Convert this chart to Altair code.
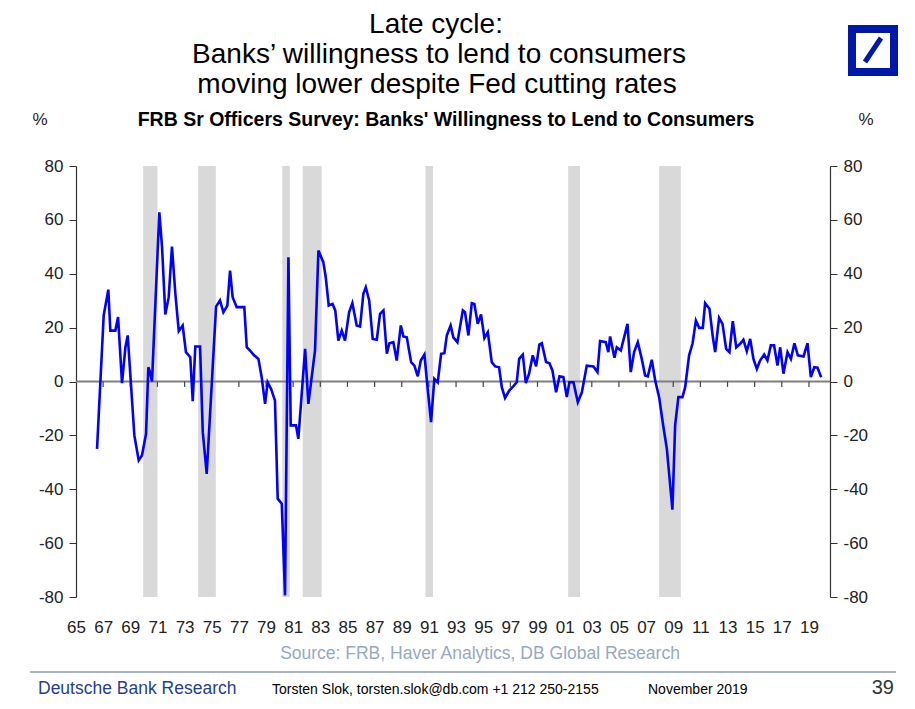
import altair as alt
import pandas as pd

# ---- data ----
years = [1966.55, 1967.04, 1967.38, 1967.53, 1967.90, 1968.10, 1968.39, 1968.64, 1968.81, 1969.30,
         1969.62, 1969.86, 1970.16, 1970.33, 1970.45, 1970.60, 1971.14, 1971.34, 1971.58, 1971.83,
         1972.07, 1972.32, 1972.57, 1972.86, 1973.10, 1973.42, 1973.60, 1973.79, 1974.14, 1974.34,
         1974.63, 1975.32, 1975.61, 1975.86, 1976.15, 1976.35, 1976.54, 1976.84, 1977.40, 1977.58,
         1977.82, 1978.12, 1978.44, 1978.68, 1978.93, 1979.12, 1979.37, 1979.66, 1979.86, 1980.16,
         1980.40, 1980.65, 1980.82, 1981.21, 1981.38, 1981.88, 1982.12, 1982.61, 1982.86, 1983.22,
         1983.40, 1983.62, 1983.90, 1984.10, 1984.33, 1984.58, 1984.82, 1985.12, 1985.36, 1985.68,
         1985.93, 1986.17, 1986.35, 1986.60, 1986.86, 1987.16, 1987.40, 1987.65, 1987.90, 1988.09,
         1988.38, 1988.63, 1988.93, 1989.12, 1989.37, 1989.69, 1989.93, 1990.18, 1990.40, 1990.67,
         1990.92, 1991.16, 1991.40, 1991.65, 1991.90, 1992.14, 1992.32, 1992.60, 1992.80, 1993.10,
         1993.50, 1993.66, 1993.91, 1994.16, 1994.35, 1994.60, 1994.84, 1995.09, 1995.34, 1995.63,
         1995.88, 1996.17, 1996.37, 1996.61, 1996.93, 1997.23, 1997.47, 1997.65, 1997.92, 1998.14,
         1998.38, 1998.65, 1998.90, 1999.14, 1999.32, 1999.63, 1999.88, 2000.10, 2000.37, 2000.62,
         2000.91, 2001.16, 2001.35, 2001.65, 2001.97, 2002.27, 2002.63, 2003.12, 2003.42, 2003.61,
         2004.03, 2004.22, 2004.35, 2004.67, 2004.84, 2005.14, 2005.63, 2005.87, 2006.12, 2006.39,
         2006.68, 2006.93, 2007.13, 2007.42, 2007.67, 2007.96, 2008.28, 2008.53, 2008.94, 2009.14,
         2009.38, 2009.68, 2009.88, 2010.17, 2010.42, 2010.67, 2010.91, 2011.18, 2011.35, 2011.67,
         2011.92, 2012.09, 2012.38, 2012.63, 2012.90, 2013.14, 2013.39, 2013.64, 2013.93, 2014.17,
         2014.42, 2014.67, 2014.91, 2015.16, 2015.40, 2015.70, 2015.94, 2016.19, 2016.43, 2016.68,
         2016.88, 2017.12, 2017.42, 2017.67, 2017.93, 2018.18, 2018.60, 2018.89, 2019.14, 2019.39,
         2019.63, 2019.90]
values = [-25.0, 24.5, 34.1, 18.9, 18.9, 23.9, -0.6, 12.7, 17.1, -20.0,
          -29.3, -27.5, -19.4, 5.3, 3.5, 0.0, 62.8, 49.9, 24.9, 31.3,
          50.1, 32.6, 18.7, 20.8, 10.9, 9.0, -7.3, 13.0, 13.0, -18.8,
          -34.3, 27.8, 30.1, 25.7, 28.2, 41.2, 31.3, 27.6, 27.6, 12.7,
          11.5, 9.7, 8.4, 1.6, -8.3, -0.3, -2.7, -7.1, -43.5, -45.4,
          -79.4, 46.1, -16.3, -16.3, -21.3, 12.1, -8.3, 11.5, 48.6, 44.3,
          38.7, 28.2, 28.8, 26.4, 15.2, 18.9, 15.2, 25.7, 29.1, 20.8,
          20.4, 32.6, 35.0, 30.1, 15.8, 15.5, 25.1, 26.4, 10.3, 14.2,
          14.6, 7.8, 20.8, 16.7, 16.4, 7.2, 5.9, 1.9, 7.8, 10.0,
          -3.3, -15.1, 1.0, -0.3, 10.3, 10.5, 17.1, 20.8, 16.4, 14.6,
          26.4, 25.7, 17.1, 29.1, 28.8, 21.4, 24.9, 16.1, 18.3, 7.2,
          5.6, 5.3, -2.1, -6.1, -3.3, -1.7, -0.3, 8.4, 10.0, -0.6,
          2.9, 9.7, 5.6, 13.7, 14.2, 7.2, 6.8, 4.1, -4.0, 1.9,
          1.6, -5.8, -0.3, -0.3, -7.7, -4.0, 5.9, 5.6, 3.5, 15.0,
          14.6, 10.9, 16.7, 8.8, 12.7, 11.5, 21.4, 3.5, 10.9, 14.6,
          8.4, 2.2, 1.9, 8.1, 0.4, -5.8, -17.0, -25.0, -47.6, -16.3,
          -5.8, -5.8, -2.1, 9.7, 14.0, 22.6, 19.9, 19.9, 29.1, 27.0,
          16.4, 10.9, 23.6, 21.4, 12.1, 10.9, 22.4, 12.7, 14.0, 15.5,
          11.2, 15.8, 8.4, 4.7, 7.8, 10.0, 7.8, 13.4, 13.4, 5.9,
          12.7, 2.9, 10.9, 8.4, 14.2, 9.7, 9.3, 14.2, 1.6, 5.3,
          5.1, 1.6]

rec_start = [1969.95, 1974.0, 1980.2, 1981.7, 1990.75, 2001.26, 2007.96]
rec_end = [1971.0, 1975.3, 1980.75, 1983.1, 1991.3, 2002.13, 2009.56]

label_years = list(range(1965, 2020, 2))
tick_years = list(range(1967, 2020, 2))
y_ticks = [-80, -60, -40, -20, 0, 20, 40, 60, 80]

df = pd.DataFrame({"year": years, "value": values})
rec = pd.DataFrame({"s": rec_start, "e": rec_end, "lo": -80, "hi": 80})
ticks = pd.DataFrame({"year": tick_years, "y0": 0, "y1": -2})

FONT = "Liberation Sans"
W, H = 754, 431

x_scale = alt.Scale(domain=[1965, 2020.55], nice=False, zero=False)
y_scale = alt.Scale(domain=[-80, 80], nice=False, zero=False)

x_axis = alt.Axis(values=label_years,
                  labelExpr="(datum.value % 100 < 10 ? '0' : '') + (datum.value % 100)",
                  domain=False, ticks=False, grid=False, title=None,
                  labelFontSize=17, labelFont=FONT, labelColor="#222222",
                  labelPadding=22, labelOverlap=False, labelFlush=False)

yaxis_common = dict(values=y_ticks, labelExpr="'' + datum.value", grid=False, title=None,
                    tickSize=7, tickColor="#333333", domainColor="#333333", domainWidth=1.2,
                    labelFontSize=17, labelFont=FONT, labelColor="#222222", labelPadding=6)

bands = alt.Chart(rec).mark_rect(color="#d9d9d9").encode(
    x=alt.X("s:Q", scale=x_scale, axis=x_axis), x2="e:Q",
    y=alt.Y("lo:Q", scale=y_scale, axis=None), y2="hi:Q")

zero = alt.Chart(alt.Data(values=[{"z": 0}])).mark_rule(color="#7f7f7f", strokeWidth=2).encode(
    y=alt.Y("z:Q", scale=y_scale, axis=None))

zticks = alt.Chart(ticks).mark_rule(color="#444444", strokeWidth=1.2).encode(
    x=alt.X("year:Q", scale=x_scale, axis=x_axis),
    y=alt.Y("y0:Q", scale=y_scale, axis=None), y2="y1:Q")

line = alt.Chart(df).mark_line(color="#0000ff", strokeWidth=2.6).encode(
    x=alt.X("year:Q", scale=x_scale, axis=x_axis),
    y=alt.Y("value:Q", scale=y_scale, axis=alt.Axis(orient="left", **yaxis_common)))

right = alt.Chart(df).mark_line(opacity=0).encode(
    x=alt.X("year:Q", scale=x_scale, axis=x_axis),
    y=alt.Y("value:Q", scale=y_scale, axis=alt.Axis(orient="right", **yaxis_common)))


def txt(text, x, y, size, color="#000000", weight="normal", align="center", font=FONT):
    return alt.Chart(alt.Data(values=[{"t": text}])).mark_text(
        text=text, fontSize=size, color=color, fontWeight=weight, align=align,
        baseline="middle", font=font).encode(x=alt.value(x), y=alt.value(y))


OX, OY = 76, 166  # page position of plot origin
def P(px, py):
    return px - OX, py - OY

texts = []
for s, (px, py), size, color, weight, align in [
    ("Late cycle:", (436, 25), 28, "#000000", "normal", "center"),
    ("Banks\u2019 willingness to lend to consumers", (439, 55), 28, "#000000", "normal", "center"),
    ("moving lower despite Fed cutting rates", (437, 85), 28, "#000000", "normal", "center"),
    ("FRB Sr Officers Survey: Banks' Willingness to Lend to Consumers", (446, 120), 19.5, "#000000", "bold", "center"),
    ("%", (40, 120), 17, "#222222", "normal", "center"),
    ("%", (866, 120), 17, "#222222", "normal", "center"),
    ("Source: FRB, Haver Analytics, DB Global Research", (480, 654), 17.5, "#97a8c4", "normal", "center"),
    ("Deutsche Bank Research", (38, 689), 17.5, "#1f3f94", "normal", "left"),
    ("Torsten Slok, torsten.slok@db.com  +1 212 250-2155", (272, 690), 14, "#000000", "normal", "left"),
    ("November 2019", (648, 690), 14, "#000000", "normal", "left"),
    ("39", (894, 688), 20, "#333333", "normal", "right"),
]:
    x, y = P(px, py)
    texts.append(txt(s, x, y, size, color, weight, align))

one = alt.Data(values=[{"k": 1}])
sep = alt.Chart(one).mark_rule(color="#8a9cb8", strokeWidth=1.5).encode(
    x=alt.value(P(30, 0)[0]), x2=alt.value(P(896, 0)[0]), y=alt.value(P(0, 672)[1]))

logo_outer = alt.Chart(one).mark_rect(color="#0018a8").encode(
    x=alt.value(P(848, 0)[0]), x2=alt.value(P(898, 0)[0]),
    y=alt.value(P(0, 25)[1]), y2=alt.value(P(0, 76)[1]))
logo_inner = alt.Chart(one).mark_rect(color="#ffffff").encode(
    x=alt.value(P(856, 0)[0]), x2=alt.value(P(890, 0)[0]),
    y=alt.value(P(0, 33)[1]), y2=alt.value(P(0, 68)[1]))
logo_slash = alt.Chart(one).mark_rule(color="#0018a8", strokeWidth=5).encode(
    x=alt.value(P(865, 0)[0]), x2=alt.value(P(881, 0)[0]),
    y=alt.value(P(0, 62)[1]), y2=alt.value(P(0, 38)[1]))

chart = alt.layer(
    bands, zero, zticks, line, right, sep, logo_outer, logo_inner, logo_slash, *texts
).resolve_axis(y="independent").properties(
    width=W, height=H,
    autosize=alt.AutoSizeParams(type="none"),
    padding={"left": 68, "top": 158, "right": 77, "bottom": 104},
    background="#ffffff",
).configure_view(stroke=None)

chart.save("out.html", embed_options={"renderer": "svg", "actions": False})
